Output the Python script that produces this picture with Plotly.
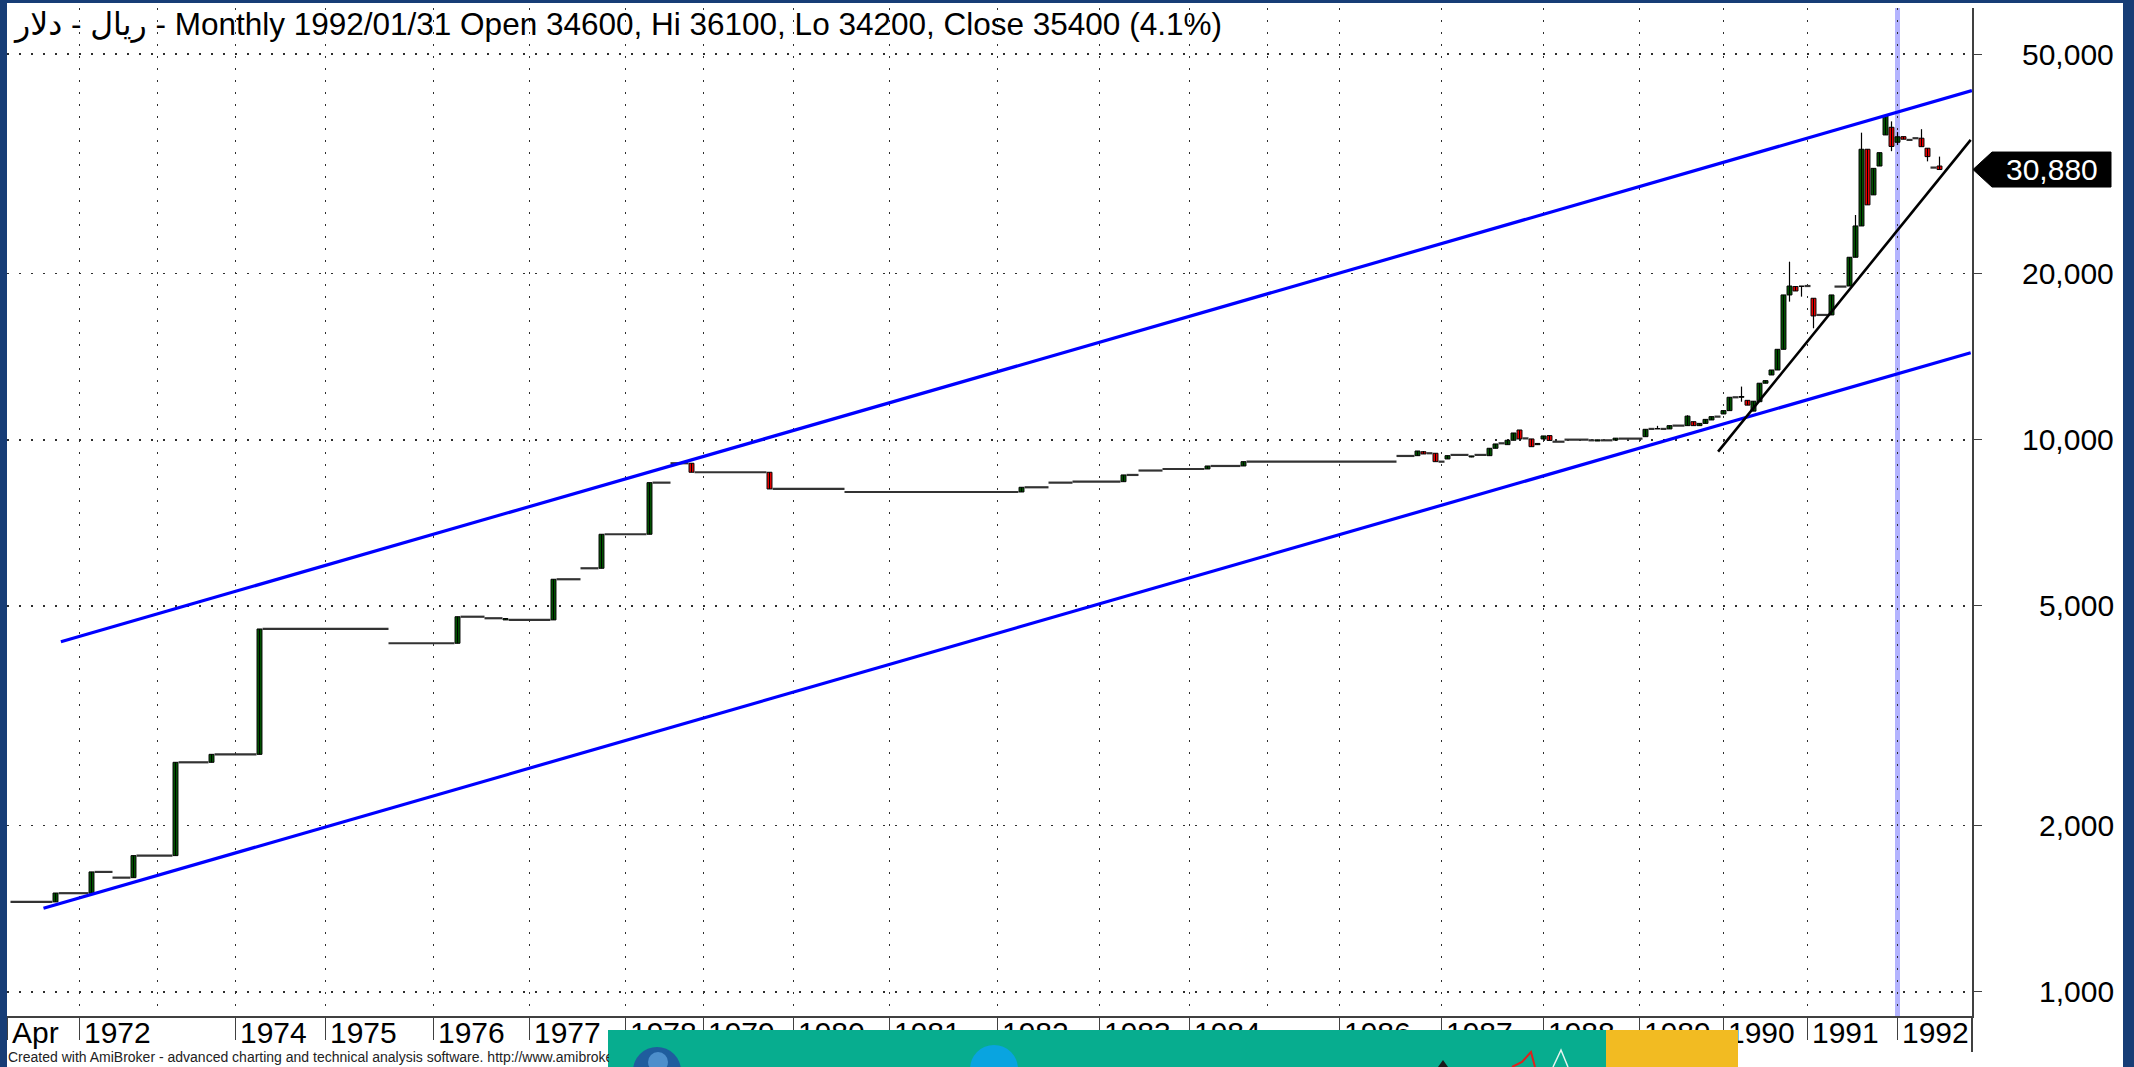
import numpy as np
import plotly.graph_objects as go

# ---------------- data ----------------
symbol_name = "ریال - دلار"
period_name = "Monthly"
sel_date = "1992/01/31"
sel_bar = 315

# year ticks (bar index of first bar of each year)
label_bar = [0, 12, 38, 53, 71, 87, 103, 116, 131, 147, 165, 182, 197, 222, 239, 256, 272, 286, 300, 315]
label_text = ["Apr", "1972", "1974", "1975", "1976", "1977", "1978", "1979", "1980", "1981", "1982",
              "1983", "1984", "1986", "1987", "1988", "1989", "1990", "1991", "1992"]
gridonly_bar = [25, 210]          # 1973, 1985 (gridline, label hidden)

# price-axis ticks
y_ticks = [1000, 2000, 5000, 10000, 20000, 50000]

# flat bars (open = high = low = close), given as runs of consecutive bars
flat_first = [1, 9, 15, 18, 22, 29, 35, 43, 64, 76,
              80, 84, 92, 96, 100, 108, 111, 115, 128, 140,
              170, 174, 178, 187, 189, 193, 201, 207, 232, 237,
              239, 241, 245, 249, 253, 258, 260, 264, 266, 269,
              274, 276, 278, 285, 288, 300, 302, 305, 317, 318, 321]
flat_last = [7, 13, 17, 20, 27, 33, 41, 63, 74, 79,
             82, 90, 95, 98, 106, 110, 113, 126, 139, 168,
             173, 177, 185, 188, 192, 199, 205, 231, 234, 237,
             239, 243, 246, 249, 253, 259, 263, 264, 267, 272,
             274, 276, 279, 285, 288, 300, 303, 306, 317, 318, 321]
flat_price = [1455, 1509, 1649, 1610, 1765, 2605, 2693, 4543, 4280, 4781,
              4751, 4718, 5590, 5852, 6744, 8364, 9069, 8735, 8147, 8045,
              8204, 8364, 8398, 8637, 8798, 8855, 8967, 9129, 9349, 9455,
              9129, 9390, 9390, 9856, 10060, 9922, 10007, 9980, 9980, 10050,
              10465, 10465, 10610, 11016, 11942, 18995, 16836, 18950, 34938, 35190, 31130]

# candles
c_bar = [8, 14, 21, 28, 34, 42, 75, 83, 91, 99,
         107, 114, 127, 169, 186, 200, 206, 235, 236, 238,
         240, 244, 247, 248, 250, 251, 252, 254, 255, 256,
         257, 265, 268, 273, 275, 277, 280, 281, 282, 283,
         284, 286, 287, 289, 290, 291, 292, 293, 294, 295,
         296, 297, 298, 299, 301, 304, 307, 308, 309, 310,
         311, 312, 313, 314, 315, 316, 319, 320, 322]
c_open = [1455, 1509, 1610, 1765, 2605, 2693, 4280, 4718, 4718, 5852,
          6744, 9069, 8735, 8045, 8398, 8855, 8967, 9361, 9515, 9455,
          9233, 9310, 9361, 9654, 9801, 9982, 10419, 10037, 9800, 10037,
          10178, 9950, 9990, 10132, 10465, 10465, 10610, 10786, 10610, 10710,
          10864, 11140, 11295, 11942, 11791, 11272, 11724, 12664, 13107, 13382,
          14588, 18301, 18950, 18995, 18050, 16836, 18995, 21416, 24403, 33604,
          27780, 31335, 35673, 36830, 34600, 35420, 35190, 33750, 31335]
c_high = [1510, 1649, 1765, 2605, 2693, 4543, 4781, 4745, 5590, 6744,
          8364, 9069, 8735, 8204, 8637, 8967, 9129, 9545, 9545, 9455,
          9361, 9350, 9654, 9829, 9982, 10290, 10419, 10037, 9850, 10163,
          10178, 10000, 10070, 10449, 10600, 10610, 11079, 10786, 10710, 10890,
          11016, 11295, 11942, 12487, 11791, 11749, 12664, 12800, 13382, 14588,
          18301, 21024, 18995, 18995, 18050, 18301, 21416, 25545, 36010, 33604,
          31032, 33131, 38620, 37750, 36100, 35420, 36540, 33750, 32590]
c_low = [1455, 1509, 1610, 1765, 2605, 2693, 4280, 4718, 4718, 5852,
         6744, 8735, 8147, 8045, 8398, 8855, 8967, 9361, 9427, 9129,
         9233, 9300, 9361, 9654, 9801, 9982, 10037, 9718, 9800, 10037,
         9974, 9950, 9990, 10132, 10465, 10465, 10610, 10610, 10610, 10710,
         10864, 11140, 11295, 11722, 11557, 11272, 11724, 12664, 13107, 13382,
         14588, 17797, 18606, 18171, 15926, 16836, 18995, 21416, 24403, 26647,
         27780, 31335, 35673, 33340, 34200, 35040, 33970, 31950, 30880]
c_close = [1510, 1649, 1765, 2605, 2693, 4543, 4781, 4745, 5590, 6744,
           8364, 8735, 8147, 8204, 8637, 8967, 9129, 9545, 9427, 9129,
           9361, 9350, 9654, 9829, 9982, 10290, 10037, 9718, 9850, 10163,
           9974, 10000, 10070, 10449, 10480, 10610, 11040, 10610, 10710, 10890,
           11016, 11295, 11942, 11980, 11557, 11749, 12664, 12800, 13382, 14588,
           18301, 18995, 18606, 18960, 16766, 18301, 21416, 24403, 33604, 26647,
           31032, 33131, 38620, 34000, 35400, 35040, 33970, 32590, 30880]

# drawn trend lines (bar index, price)
upper_x, upper_y = [8.9, 327.4], [4308, 42910]
lower_x, lower_y = [6.0, 327.2], [1417, 14382]
trend_x, trend_y = [285.1, 327.2], [9517, 34938]

assert len(flat_first) == len(flat_last) == len(flat_price)
assert len(c_bar) == len(c_open) == len(c_high) == len(c_low) == len(c_close)

# ---------------- layout geometry ----------------
W, H = 2134, 1067
PL, PR, PT, PB = 7, 1972, 8, 1016
FONT = "Liberation Sans, Arial, DejaVu Sans, sans-serif"


def fx(p):
    return (p - PL) / (PR - PL)


def fy(p):
    return (PB - p) / (PB - PT)


fig = go.Figure()

# flat bars
fxs, fys = [], []
for a, b, p in zip(flat_first, flat_last, flat_price):
    fxs += [a - 0.5, b + 0.5, None]
    fys += [p, p, None]
fig.add_trace(go.Scatter(x=fxs, y=fys, mode="lines",
                         line=dict(color="#333333", width=2.2), hoverinfo="skip"))

# wicks
wx, wy = [], []
for b, hi, lo in zip(c_bar, c_high, c_low):
    wx += [b, b, None]
    wy += [lo, hi, None]
fig.add_trace(go.Scatter(x=wx, y=wy, mode="lines",
                         line=dict(color="black", width=1.2), hoverinfo="skip"))

# bodies
base = [min(o, c) for o, c in zip(c_open, c_close)]
hgt = [max(abs(c - o), 1e-6) for o, c in zip(c_open, c_close)]
col = ["#005a00" if c >= o else "#ff0000" for o, c in zip(c_open, c_close)]
fig.add_trace(go.Bar(x=c_bar, y=hgt, base=base, width=0.82,
                     marker=dict(color=col, line=dict(color="black", width=1)),
                     hoverinfo="skip"))

# trend lines
fig.add_trace(go.Scatter(x=upper_x, y=upper_y, mode="lines", line=dict(color="#0000ff", width=3.2)))
fig.add_trace(go.Scatter(x=lower_x, y=lower_y, mode="lines", line=dict(color="#0000ff", width=3.2)))
fig.add_trace(go.Scatter(x=trend_x, y=trend_y, mode="lines", line=dict(color="black", width=2.6)))

GRIDC = "#2e2e2e"
GRIDD = "1.6px,10.4px"
grid = dict(showgrid=True, gridcolor=GRIDC, gridwidth=1.6, griddash=GRIDD)

fig.update_layout(
    width=W, height=H,
    margin=dict(l=PL, r=W - PR, t=PT, b=H - PB, autoexpand=False),
    paper_bgcolor="#173d76", plot_bgcolor="white",
    showlegend=False, barmode="overlay", hovermode=False,
    xaxis=dict(range=[(PL - 7.5) / 6, (PR - 7.5) / 6], tickmode="array",
               tickvals=label_bar, ticktext=label_text,
               ticks="outside", ticklen=22, tickwidth=1, tickcolor="#404040",
               ticklabelposition="outside right", ticklabelstandoff=-11, ticklabelshift=3,
               tickfont=dict(family=FONT, size=30, color="black"),
               showline=True, linecolor="#404040", linewidth=2, zeroline=False,
               automargin=False, fixedrange=True,
               minor=dict(tickmode="array", tickvals=gridonly_bar, ticks="",
                          showgrid=True, gridcolor=GRIDC, gridwidth=1.6, griddash=GRIDD),
               **grid),
    yaxis=dict(type="log", range=[2.9562, 4.7823], side="right",
               tickmode="array", tickvals=y_ticks, showticklabels=False,
               ticks="outside", ticklen=8, tickwidth=1, tickcolor="#404040",
               showline=True, linecolor="#404040", linewidth=2, zeroline=False,
               automargin=False, fixedrange=True, **grid),
)

shapes = [
    dict(type="rect", xref="paper", yref="paper", x0=fx(7), x1=fx(2123), y0=fy(3), y1=fy(1070),
         fillcolor="white", line=dict(width=0), layer="below"),
    dict(type="line", xref="x", yref="paper", x0=sel_bar, x1=sel_bar, y0=0, y1=1,
         line=dict(color="#b4b4ff", width=5), layer="below"),
    dict(type="line", xref="paper", yref="paper", x0=fx(1972), x1=fx(1972), y0=fy(1016), y1=fy(1052),
         line=dict(color="#404040", width=2)),
]

# last price marker
last_close = c_close[-1]
ly = np.log10(last_close)
ly_px = 54 + (np.log10(50000) - ly) * 552
pts = [(1973, ly_px), (1992, ly_px - 17.5), (2111, ly_px - 17.5), (2111, ly_px + 17.5), (1992, ly_px + 17.5)]
path = "M " + " L ".join(f"{fx(a):.5f},{fy(b):.5f}" for a, b in pts) + " Z"
shapes.append(dict(type="path", xref="paper", yref="paper", path=path,
                   fillcolor="black", line=dict(color="black", width=1)))

# bottom banner
shapes += [
    dict(type="rect", xref="paper", yref="paper", x0=fx(608), x1=fx(1606), y0=fy(1030), y1=fy(1070),
         fillcolor="#07ad8f", line=dict(width=0)),
    dict(type="rect", xref="paper", yref="paper", x0=fx(1606), x1=fx(1738), y0=fy(1030), y1=fy(1070),
         fillcolor="#f2bb22", line=dict(width=0)),
    dict(type="circle", xref="paper", yref="paper", x0=fx(633), x1=fx(681), y0=fy(1047), y1=fy(1095),
         fillcolor="#1f5d9e", line=dict(width=0)),
    dict(type="circle", xref="paper", yref="paper", x0=fx(648), x1=fx(668), y0=fy(1052), y1=fy(1072),
         fillcolor="#4d8fcc", line=dict(width=0)),
    dict(type="circle", xref="paper", yref="paper", x0=fx(970), x1=fx(1018), y0=fy(1045), y1=fy(1093),
         fillcolor="#09a4e0", line=dict(width=0)),
    dict(type="path", xref="paper", yref="paper",
         path=f"M {fx(1512)},{fy(1067)} L {fx(1522)},{fy(1062)} L {fx(1531)},{fy(1052)} L {fx(1535)},{fy(1067)}",
         line=dict(color="#e0201c", width=2)),
    dict(type="path", xref="paper", yref="paper",
         path=f"M {fx(1553)},{fy(1067)} L {fx(1561)},{fy(1050)} L {fx(1568)},{fy(1067)}",
         line=dict(color="#e8f4f0", width=1.5)),
    dict(type="path", xref="paper", yref="paper",
         path=f"M {fx(1438)},{fy(1067)} L {fx(1443)},{fy(1060)} L {fx(1448)},{fy(1067)} Z",
         fillcolor="#1a1a1a", line=dict(width=0)),
]
fig.update_layout(shapes=shapes)

i_sel = c_bar.index(sel_bar)
o, h, l, c = c_open[i_sel], c_high[i_sel], c_low[i_sel], c_close[i_sel]
prev_close = c_close[i_sel - 1]
chg = (c - prev_close) / prev_close * 100
title = (f"{symbol_name} - {period_name} {sel_date} Open {o}, Hi {h}, Lo {l}, "
         f"Close {c} ({chg:.1f}%)")

ann = [
    dict(xref="paper", yref="paper", x=fx(11), y=fy(24), xanchor="left", yanchor="middle",
         text=title, showarrow=False, font=dict(family=FONT, size=31.5, color="black")),
    dict(xref="paper", yref="paper", x=fx(2051.5), y=fy(ly_px), xanchor="center", yanchor="middle",
         text=f"{last_close:,}", showarrow=False, font=dict(family=FONT, size=30, color="white")),
    dict(xref="paper", yref="paper", x=fx(7), y=fy(1057), xanchor="left", yanchor="middle",
         width=601, align="left", borderpad=0,
         text="Created with AmiBroker - advanced charting and technical analysis software. http://www.amibroker.com",
         showarrow=False, font=dict(family=FONT, size=14, color="#222222")),
]
for v in y_ticks:
    ann.append(dict(xref="paper", yref="y", x=fx(2116), y=np.log10(v), xanchor="right", yanchor="middle",
                    text=f"{v:,}", showarrow=False, font=dict(family=FONT, size=30, color="black")))
fig.update_layout(annotations=ann)

fig.write_html("out.html", config={"displayModeBar": False, "staticPlot": True},
               post_script="document.body.style.margin='0px';document.body.style.overflow='hidden';")
